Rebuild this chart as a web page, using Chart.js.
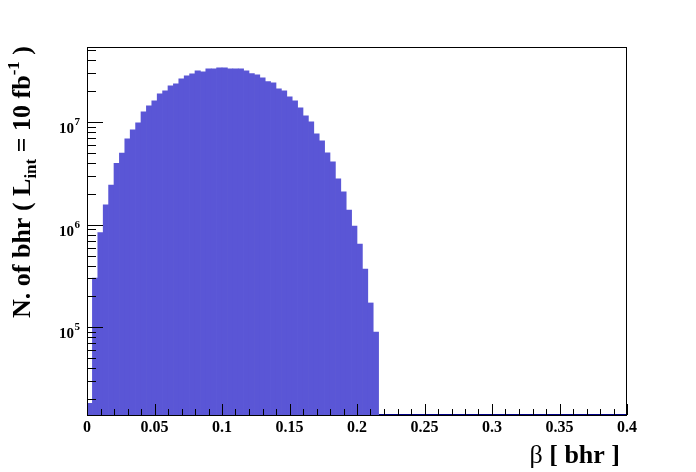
<!DOCTYPE html>
<html>
<head>
<meta charset="utf-8">
<script src="https://cdn.jsdelivr.net/npm/chart.js@4.4.0/dist/chart.umd.min.js"></script>
<style>
    html, body { margin: 0; padding: 0; background: #fff; }
    #wrap { width: 696px; height: 472px; }
</style>
</head>
<body>
<div id="wrap"><canvas id="myChart" width="696" height="472"></canvas></div>
<script>
// histogram: 100 bins of 0.004 between 0 and 0.4, only the first 54 are filled
const binWidth = 0.004;
const nBins = 100;
const binCounts = [
    1.82e4, 3.03e5, 8.37e5, 1.56e6, 2.44e6, 3.98e6, 4.99e6, 6.87e6, 8.41e6, 9.84e6,
    1.26e7, 1.44e7, 1.61e7, 1.89e7, 2.02e7, 2.26e7, 2.36e7, 2.64e7, 2.83e7, 2.96e7,
    3.16e7, 3.09e7, 3.31e7, 3.31e7, 3.39e7, 3.39e7, 3.31e7, 3.31e7, 3.31e7, 3.16e7,
    2.98e7, 2.89e7, 2.70e7, 2.49e7, 2.42e7, 2.11e7, 2.02e7, 1.77e7, 1.61e7, 1.38e7,
    1.15e7, 1.01e7, 7.69e6, 6.57e6, 5.01e6, 4.10e6, 2.80e6, 2.09e6, 1.39e6, 9.73e5,
    6.50e5, 3.71e5, 1.73e5, 9.0e4
];

const xMin = 0;
const xMax = 0.4;
const yMin = 1.4e4;
const yMax = 5.4e7;

const xMajorTicks = [0, 0.05, 0.1, 0.15, 0.2, 0.25, 0.3, 0.35, 0.4];
const xTickLabels = ['0', '0.05', '0.1', '0.15', '0.2', '0.25', '0.3', '0.35', '0.4'];
const xMinorStep = 0.01;
const yMajorTicks = [1e5, 1e6, 1e7];
const yTickExponents = ['5', '6', '7'];
const yMinorTicks = [2e4, 3e4, 4e4, 5e4, 6e4, 7e4, 8e4, 9e4,
    2e5, 3e5, 4e5, 5e5, 6e5, 7e5, 8e5, 9e5,
    2e6, 3e6, 4e6, 5e6, 6e6, 7e6, 8e6, 9e6,
    2e7, 3e7, 4e7, 5e7];

const fillColor = 'rgb(90, 86, 214)';
const lineColor = '#000080';
const serif = '"Liberation Serif", "DejaVu Serif", serif';

const barData = binCounts.map((v, i) => ({ x: (i + 0.5) * binWidth, y: v }));

// empty bins sit on the axis floor
const emptyData = [];
for (let i = binCounts.length; i <= nBins; i++) {
    emptyData.push({ x: i * binWidth, y: yMin });
}

const frameAndText = {
    id: 'frameAndText',
    afterDraw(chart) {
        const ctx = chart.ctx;
        const area = chart.chartArea;
        const xs = chart.scales.x;
        const ys = chart.scales.y;
        ctx.save();
        ctx.strokeStyle = '#000';
        ctx.lineWidth = 1;
        ctx.strokeRect(area.left + 0.5, area.top + 0.5, area.right - area.left - 1, area.bottom - area.top);

        // x ticks, pointing inside
        ctx.beginPath();
        for (let k = 0; k <= Math.round((xMax - xMin) / xMinorStep); k++) {
            const v = xMin + k * xMinorStep;
            const px = Math.round(xs.getPixelForValue(v)) + 0.5;
            const len = k % 5 === 0 ? 11 : 6;
            ctx.moveTo(px, area.bottom);
            ctx.lineTo(px, area.bottom - len);
        }
        // y ticks
        yMajorTicks.forEach(v => {
            const py = Math.round(ys.getPixelForValue(v)) + 0.5;
            ctx.moveTo(area.left, py);
            ctx.lineTo(area.left + 16, py);
        });
        yMinorTicks.forEach(v => {
            const py = Math.round(ys.getPixelForValue(v)) + 0.5;
            ctx.moveTo(area.left, py);
            ctx.lineTo(area.left + 9, py);
        });
        ctx.stroke();

        // y labels 10^n
        ctx.fillStyle = '#000';
        ctx.textBaseline = 'alphabetic';
        yMajorTicks.forEach((v, i) => {
            const py = ys.getPixelForValue(v);
            ctx.font = 'bold 15px ' + serif;
            ctx.textAlign = 'right';
            ctx.fillText('10', 74, py + 11);
            ctx.font = 'bold 11px ' + serif;
            ctx.textAlign = 'left';
            ctx.fillText(yTickExponents[i], 74.5, py + 3);
        });

        // x title
        ctx.textAlign = 'left';
        const bigBold = 'bold 26px ' + serif;
        ctx.font = bigBold;
        const restW = ctx.measureText(' [ bhr ]').width;
        ctx.font = '26px ' + serif;
        const betaW = ctx.measureText('\u03B2').width;
        const xEnd = 620;
        ctx.fillText('\u03B2', xEnd - restW - betaW, 463);
        ctx.font = bigBold;
        ctx.fillText(' [ bhr ]', xEnd - restW, 463);

        // y title, rotated
        ctx.translate(30, 318);
        ctx.rotate(-Math.PI / 2);
        const parts = [
            { t: 'N. of bhr ( L', f: bigBold, dy: 0 },
            { t: 'int', f: 'bold 17px ' + serif, dy: 6 },
            { t: ' = 10 fb', f: bigBold, dy: 0 },
            { t: '-1', f: 'bold 17px ' + serif, dy: -11 },
            { t: ' )', f: bigBold, dy: 0 }
        ];
        let cx = 0;
        parts.forEach(p => {
            ctx.font = p.f;
            ctx.fillText(p.t, cx, p.dy);
            cx += ctx.measureText(p.t).width;
        });
        ctx.restore();
    }
};

const ctx = document.getElementById('myChart');
new Chart(ctx, {
    type: 'bar',
    data: {
        datasets: [{
            type: 'bar',
            label: 'bhr',
            data: barData,
            backgroundColor: fillColor,
            borderWidth: 0,
            barPercentage: 1,
            categoryPercentage: 1
        }, {
            type: 'line',
            label: 'empty',
            data: emptyData,
            borderColor: lineColor,
            borderWidth: 2,
            pointRadius: 0,
            clip: 3
        }]
    },
    options: {
        responsive: false,
        animation: false,
        layout: { padding: { top: 47, right: 69, bottom: 0, left: 0 } },
        plugins: {
            legend: { display: false },
            tooltip: { enabled: false }
        },
        scales: {
            x: {
                type: 'linear',
                min: xMin,
                max: xMax,
                offset: false,
                grid: { display: false },
                border: { display: false },
                afterBuildTicks: s => { s.ticks = xMajorTicks.map(v => ({ value: v })); },
                afterFit: s => { s.height = 57; },
                ticks: {
                    autoSkip: false,
                    maxRotation: 0,
                    padding: -5,
                    color: '#000',
                    font: { family: serif, size: 16, weight: 'bold' },
                    callback: (v, i) => xTickLabels[i]
                }
            },
            y: {
                type: 'logarithmic',
                min: yMin,
                max: yMax,
                grid: { display: false },
                border: { display: false },
                afterFit: s => { s.width = 87; },
                ticks: { display: false }
            }
        }
    },
    plugins: [frameAndText]
});
</script>
</body>
</html>
